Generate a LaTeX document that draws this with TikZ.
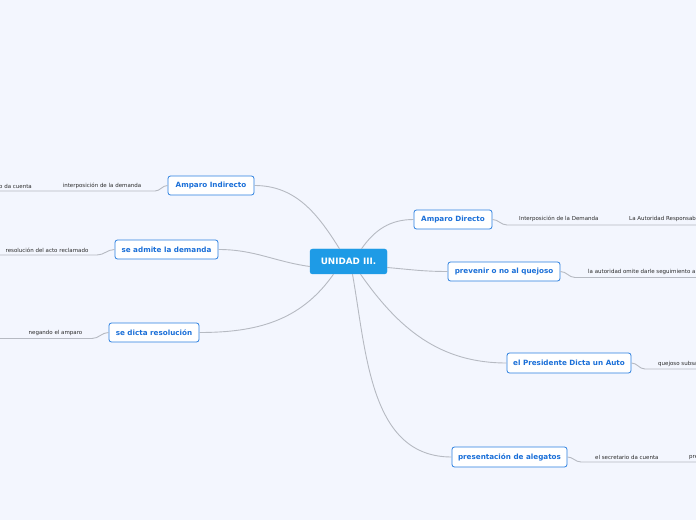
\documentclass[tikz,border=0pt]{standalone}
\usepackage{fontspec}
\setmainfont{DejaVu Sans}
\definecolor{bg}{HTML}{F3F6FE}
\definecolor{cfill}{HTML}{1E9BE6}
\definecolor{bblue}{HTML}{2A7FE0}
\definecolor{tblue}{HTML}{1A6FD8}
\definecolor{lgray}{HTML}{B6BAC2}
\definecolor{stext}{HTML}{2B2B2B}
\begin{document}
\begin{tikzpicture}[x=1pt,y=1pt,
  centre/.style={draw=cfill,fill=cfill,rounded corners=2.5pt,text=white,font=\fontsize{8.8}{10}\selectfont\bfseries,inner sep=0pt,minimum width=77pt,minimum height=25pt},
  branch/.style={draw=bblue,fill=white,line width=0.8pt,rounded corners=2.5pt,text=tblue,font=\fontsize{7.2}{8}\selectfont\bfseries,inner sep=0pt,minimum height=19pt},
  sub/.style={text=stext,font=\fontsize{5.5}{6}\selectfont,inner sep=0pt},
  conn/.style={draw=lgray,line width=0.9pt},
  uline/.style={draw=lgray,line width=0.9pt}]
\clip (0,0) rectangle (696,520);
\fill[bg] (0,0) rectangle (696,520);

% centre
\node[centre] (c) at (348.5,258.5) {UNIDAD III.};

% branches
\node[branch,minimum width=86pt] (ai) at (211,334.5) {Amparo Indirecto};
\node[branch,minimum width=103pt] (sa) at (166.5,270.5) {se admite la demanda};
\node[branch,minimum width=90pt] (sd) at (154,187.5) {se dicta resolución};
\node[branch,minimum width=78pt] (ad) at (453,300.5) {Amparo Directo};
\node[branch,minimum width=112pt] (pr) at (504,248.5) {prevenir o no al quejoso};
\node[branch,minimum width=124pt,minimum height=20pt] (pd) at (569,157) {el Presidente Dicta un Auto};
\node[branch,minimum width=115pt,minimum height=20pt] (pa) at (509.5,63) {presentación de alegatos};

% connectors from centre
\draw[conn] ([xshift=-9pt]c.north) to[out=122,in=0] (ai.east);
\draw[conn] ([yshift=-5pt]c.west) to[out=172,in=0] (sa.east);
\draw[conn] ([xshift=-15pt]c.south) to[out=235,in=0] (sd.east);
\draw[conn] ([xshift=13pt]c.north) to[out=55,in=180] (ad.west);
\draw[conn] ([yshift=-6pt]c.east) to[out=-5,in=180] (pr.west);
\draw[conn] ([xshift=12pt]c.south) to[out=-55,in=180] (pd.west);
\draw[conn] ([xshift=4pt]c.south) to[out=-80,in=180] (pa.west);

% left sub-topics
\node[sub] (s1) at (102,334) {interposición de la demanda};
\node[sub,anchor=east] (s1b) at (32,334) {el secretario da cuenta};
\coordinate (u1a) at (155,329);
\coordinate (u1b) at (0,329);
\draw[uline] (ai.west) to[out=180,in=0] (u1a) -- (u1b);

\node[sub] (s2) at (47,270) {resolución del acto reclamado};
\coordinate (u2a) at (97,265);
\coordinate (u2b) at (0,265);
\draw[uline] (sa.west) to[out=180,in=0] (u2a) -- (u2b);

\node[sub] (s3) at (55.5,187) {negando el amparo};
\coordinate (u3a) at (92,181.5);
\coordinate (u3b) at (0,181.5);
\draw[uline] (sd.west) to[out=180,in=0] (u3a) -- (u3b);

% right sub-topics
\node[sub,anchor=west] (r1) at (519,301) {Interposición de la Demanda};
\node[sub,anchor=west] (r1b) at (629,301) {La Autoridad Responsable};
\coordinate (v1a) at (507,295);
\coordinate (v1b) at (700,295);
\draw[uline] (ad.east) to[out=0,in=180] (v1a) -- (v1b);

\node[sub,anchor=west] (r2) at (588,248) {la autoridad omite darle seguimiento a};
\coordinate (v2a) at (575,242.5);
\coordinate (v2b) at (700,242.5);
\draw[uline] (pr.east) to[out=0,in=180] (v2a) -- (v2b);

\node[sub,anchor=west] (r3) at (658,156) {quejoso subsana};
\coordinate (v3a) at (645,151);
\coordinate (v3b) at (700,151);
\draw[uline] (pd.east) to[out=0,in=180] (v3a) -- (v3b);

\node[sub,anchor=west] (r4) at (595,63) {el secretario da cuenta};
\node[sub,anchor=west] (r4b) at (689,63) {presentación};
\coordinate (v4a) at (581,58);
\coordinate (v4b) at (700,58);
\draw[uline] (pa.east) to[out=0,in=180] (v4a) -- (v4b);
\end{tikzpicture}
\end{document}
